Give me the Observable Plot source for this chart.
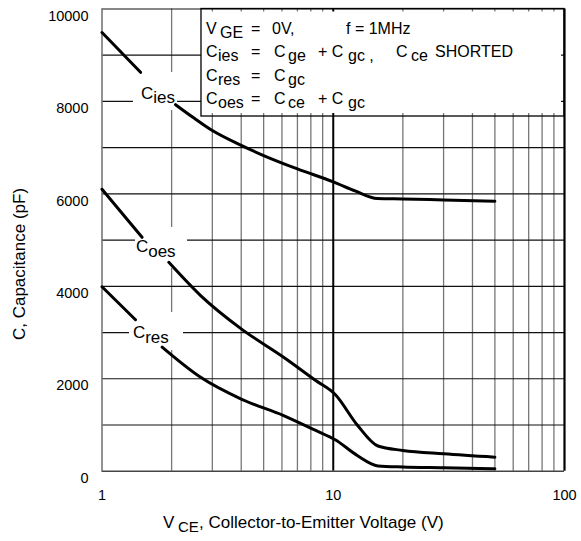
<!DOCTYPE html>
<html><head><meta charset="utf-8">
<script src="https://cdn.jsdelivr.net/npm/d3@7"></script>
<script src="https://cdn.jsdelivr.net/npm/@observablehq/plot@0.6"></script>
<style>
html,body{margin:0;padding:0;background:#fff;}
#chart svg{display:block;}
</style>
</head><body><div id="chart"></div>
<script>
// ---- data ----
// null capacitance = gap where the curve label sits
const ciesV = [1, 1.468, 1.75, 2.08, 2.5, 3, 4, 5, 7, 10, 12.5, 15.5, 20, 30, 50];
const ciesC = [9490, 8630, null, 7930, 7640, 7370, 7050, 6830, 6540, 6260, 6060, 5900, 5890, 5870, 5840];
const coesV = [1, 1.49, 1.7, 1.945, 2.67, 4, 6.1, 8.4, 10.2, 12.7, 15.6, 20, 30, 50];
const coesC = [6100, 5060, null, 4520, 3800, 3080, 2466, 1962, 1660, 1000, 545, 450, 376, 303];
const cresV = [1, 1.396, 1.6, 1.82, 2.67, 4, 6.1, 8.4, 10.2, 12.7, 15.6, 20, 30, 50];
const cresC = [3990, 3276, null, 2683, 2030, 1560, 1205, 881, 680, 340, 115, 90, 74, 52];

const xTickLabels = [1, 10, 100];
const yTickLabels = [0, 2000, 4000, 6000, 8000, 10000];
const xMinorGrid = [2, 3, 4, 5, 6, 7, 8, 9, 20, 30, 40, 50, 60, 70, 80, 90];
const yGrid = [1000, 2000, 3000, 4000, 5000, 6000, 7000, 8000, 9000, 10000];

const series = [
  {name: "Cies", v: ciesV, c: ciesC},
  {name: "Coes", v: coesV, c: coesC},
  {name: "Cres", v: cresV, c: cresC}
];
const rows = series.flatMap(s => s.v.map((v, i) => ({series: s.name, vce: v, c: s.c[i]})));

// ---- annotation layout ----
const labelMasks = [
  {x1: 1.368, x2: 2.121, y1: 7804, y2: 8626},
  {x1: 1.396, x2: 2.343, y1: 4386, y2: 5273},
  {x1: 1.315, x2: 2.251, y1: 2611, y2: 3434}
];
const legendBox = [{x1: 2.693, x2: 100, y1: 7674, y2: 10000}];

const FONT = "'Liberation Sans', Arial, Helvetica, sans-serif";

const plot = Plot.plot({
  width: 581,
  height: 541,
  marginLeft: 101.5,
  marginRight: 17,
  marginTop: 8.5,
  marginBottom: 70.3,
  style: {fontFamily: FONT, fontSize: "14.5px", color: "#000", background: "#fff"},
  x: {type: "log", domain: [1, 100]},
  y: {domain: [0, 10000]},
  marks: [
    Plot.ruleX(xMinorGrid, {stroke: "#777", strokeWidth: 1.3}),
    Plot.ruleY(yGrid, {stroke: "#111", strokeWidth: 1.2}),
    Plot.rect(labelMasks, {x1: "x1", x2: "x2", y1: "y1", y2: "y2", fill: "#fff"}),
    Plot.ruleX([10], {stroke: "#000", strokeWidth: 2}),
    Plot.rect(legendBox, {x1: "x1", x2: "x2", y1: "y1", y2: "y2", fill: "#fff", insetTop: 3, insetRight: 3, insetBottom: 3}),
    Plot.rect(legendBox, {x1: "x1", x2: "x2", y1: "y1", y2: "y2", fill: "none", stroke: "#000", strokeWidth: 1.3}),
    Plot.ruleX([1], {stroke: "#777", strokeWidth: 1.6}),
    Plot.ruleY([0], {stroke: "#444", strokeWidth: 1.5}),
    Plot.ruleX([100], {stroke: "#000", strokeWidth: 2.2}),
    Plot.line(rows, {x: "vce", y: "c", z: "series", stroke: "#000", strokeWidth: 3, curve: "monotone-x", strokeLinejoin: "round"}),
    Plot.axisY(yTickLabels, {anchor: "left", tickSize: 0, tickPadding: 13.5, dy: 7, tickFormat: d => String(d), label: null, fontSize: 14.5}),
    Plot.axisX(xTickLabels, {anchor: "bottom", tickSize: 0, tickPadding: 19, tickFormat: d => String(d), label: null, fontSize: 14.5})
  ]
});

document.getElementById("chart").appendChild(plot);

// ---- rich text annotations (subscripts) ----
const svg = d3.select(plot);
const ann = svg.append("g").attr("font-family", FONT).attr("fill", "#000");
function txt(x, y, s, size, anchor) {
  return ann.append("text").attr("x", x).attr("y", y).attr("font-size", size)
    .attr("text-anchor", anchor || "start").text(s);
}

// legend rows: [x, text, isSubscript]
const legendRows = [
  {y: 34, items: [[206, "V"], [220, "GE", 1], [251, "="], [272, "0V,"], [346, "f = 1MHz"]]},
  {y: 57, items: [[206, "C"], [218, "ies", 1], [251, "="], [274, "C"], [288, "ge", 1], [318, "+ C"], [348, "gc ,", 1], [396, "C"], [411, "ce", 1], [435, "SHORTED"]]},
  {y: 81, items: [[206, "C"], [218, "res", 1], [251, "="], [274, "C"], [288, "gc", 1]]},
  {y: 104, items: [[206, "C"], [218, "oes", 1], [251, "="], [274, "C"], [288, "ce", 1], [318, "+ C"], [348, "gc", 1]]}
];
legendRows.forEach(r => r.items.forEach(([x, s, sub]) => txt(x, r.y + (sub ? 4 : 0), s, 16)));

// curve labels
const curveLabels = [
  {x: 141, y: 98.5, sub: "ies"},
  {x: 136, y: 251.7, sub: "oes"},
  {x: 133, y: 338.3, sub: "res"}
];
curveLabels.forEach(l => {
  txt(l.x, l.y, "C", 17);
  txt(l.x + 12.2, l.y + 4.8, l.sub, 17);
});

// axis titles
txt(163, 528, "V", 17);
txt(178, 531.5, "CE", 15);
txt(199, 528, ", Collector-to-Emitter Voltage (V)", 17);
ann.append("text").attr("transform", "translate(25,264) rotate(-90)")
  .attr("text-anchor", "middle").attr("font-size", 17).text("C, Capacitance (pF)");
</script>
</body></html>
